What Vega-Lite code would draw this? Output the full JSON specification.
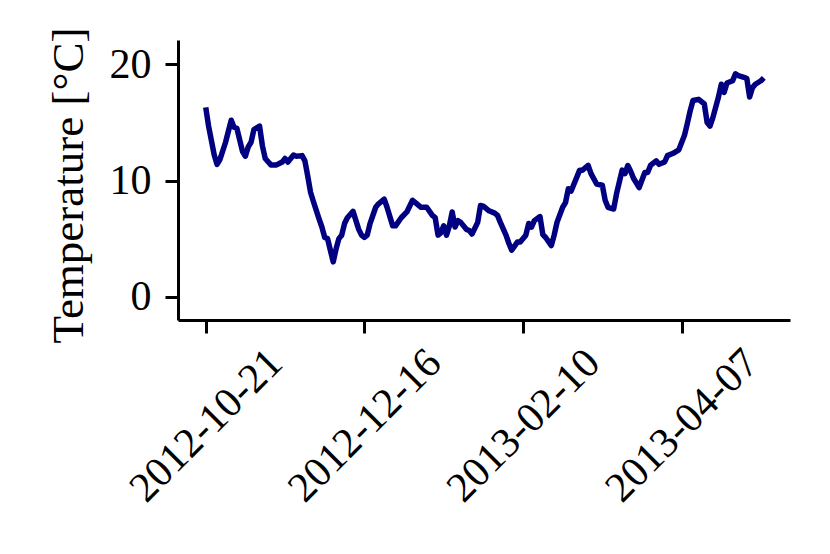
{
  "$schema": "https://vega.github.io/schema/vega-lite/v6.json",
  "width": 612,
  "height": 280,
  "autosize": "none",
  "padding": {"left": 178, "top": 40, "right": 40, "bottom": 234},
  "background": "white",
  "config": {
    "view": {"stroke": null},
    "font": "Liberation Serif",
    "axis": {
      "grid": false,
      "domainColor": "black",
      "domainWidth": 3,
      "tickColor": "black",
      "tickWidth": 3,
      "tickSize": 13,
      "labelFont": "Liberation Serif",
      "labelFontSize": 42,
      "labelColor": "black",
      "labelLimit": 1000,
      "titleFont": "Liberation Serif",
      "titleFontSize": 45,
      "titleFontWeight": "normal",
      "titleColor": "black",
      "titleLimit": 1000
    }
  },
  "data": {
    "values": [
      {"date": "2012-10-21", "temp": 16.3},
      {"date": "2012-10-22", "temp": 14.7},
      {"date": "2012-10-24", "temp": 12.2},
      {"date": "2012-10-25", "temp": 11.4},
      {"date": "2012-10-26", "temp": 11.8},
      {"date": "2012-10-28", "temp": 13.3},
      {"date": "2012-10-30", "temp": 15.2},
      {"date": "2012-10-31", "temp": 14.6},
      {"date": "2012-11-01", "temp": 14.5},
      {"date": "2012-11-03", "temp": 12.5},
      {"date": "2012-11-04", "temp": 12.1},
      {"date": "2012-11-05", "temp": 12.9},
      {"date": "2012-11-06", "temp": 13.3},
      {"date": "2012-11-07", "temp": 14.4},
      {"date": "2012-11-09", "temp": 14.7},
      {"date": "2012-11-10", "temp": 13.0},
      {"date": "2012-11-11", "temp": 11.9},
      {"date": "2012-11-13", "temp": 11.35},
      {"date": "2012-11-15", "temp": 11.35},
      {"date": "2012-11-17", "temp": 11.6},
      {"date": "2012-11-18", "temp": 11.9},
      {"date": "2012-11-19", "temp": 11.6},
      {"date": "2012-11-21", "temp": 12.2},
      {"date": "2012-11-22", "temp": 12.1},
      {"date": "2012-11-24", "temp": 12.15},
      {"date": "2012-11-25", "temp": 11.7},
      {"date": "2012-11-26", "temp": 10.4},
      {"date": "2012-11-27", "temp": 9.0},
      {"date": "2012-11-28", "temp": 8.2},
      {"date": "2012-11-30", "temp": 6.7},
      {"date": "2012-12-01", "temp": 6.0},
      {"date": "2012-12-02", "temp": 5.1},
      {"date": "2012-12-03", "temp": 5.0},
      {"date": "2012-12-04", "temp": 4.0},
      {"date": "2012-12-05", "temp": 3.0},
      {"date": "2012-12-06", "temp": 4.1},
      {"date": "2012-12-07", "temp": 5.0},
      {"date": "2012-12-08", "temp": 5.3},
      {"date": "2012-12-09", "temp": 6.3},
      {"date": "2012-12-10", "temp": 6.8},
      {"date": "2012-12-12", "temp": 7.35},
      {"date": "2012-12-14", "temp": 5.8},
      {"date": "2012-12-15", "temp": 5.3},
      {"date": "2012-12-16", "temp": 5.1},
      {"date": "2012-12-17", "temp": 5.3},
      {"date": "2012-12-18", "temp": 6.3},
      {"date": "2012-12-20", "temp": 7.7},
      {"date": "2012-12-21", "temp": 8.0},
      {"date": "2012-12-23", "temp": 8.4},
      {"date": "2012-12-24", "temp": 7.7},
      {"date": "2012-12-26", "temp": 6.1},
      {"date": "2012-12-27", "temp": 6.1},
      {"date": "2012-12-29", "temp": 6.8},
      {"date": "2012-12-31", "temp": 7.3},
      {"date": "2013-01-02", "temp": 8.3},
      {"date": "2013-01-03", "temp": 8.1},
      {"date": "2013-01-05", "temp": 7.7},
      {"date": "2013-01-07", "temp": 7.7},
      {"date": "2013-01-09", "temp": 7.0},
      {"date": "2013-01-10", "temp": 6.8},
      {"date": "2013-01-11", "temp": 5.3},
      {"date": "2013-01-12", "temp": 5.5},
      {"date": "2013-01-13", "temp": 6.1},
      {"date": "2013-01-14", "temp": 5.3},
      {"date": "2013-01-15", "temp": 6.1},
      {"date": "2013-01-16", "temp": 7.3},
      {"date": "2013-01-17", "temp": 6.0},
      {"date": "2013-01-18", "temp": 6.55},
      {"date": "2013-01-19", "temp": 6.4},
      {"date": "2013-01-21", "temp": 5.8},
      {"date": "2013-01-22", "temp": 5.7},
      {"date": "2013-01-23", "temp": 5.4},
      {"date": "2013-01-25", "temp": 6.4},
      {"date": "2013-01-26", "temp": 7.85},
      {"date": "2013-01-27", "temp": 7.8},
      {"date": "2013-01-29", "temp": 7.4},
      {"date": "2013-01-31", "temp": 7.2},
      {"date": "2013-02-01", "temp": 7.0},
      {"date": "2013-02-02", "temp": 6.4},
      {"date": "2013-02-04", "temp": 5.3},
      {"date": "2013-02-05", "temp": 4.6},
      {"date": "2013-02-06", "temp": 4.0},
      {"date": "2013-02-08", "temp": 4.7},
      {"date": "2013-02-09", "temp": 4.7},
      {"date": "2013-02-11", "temp": 5.3},
      {"date": "2013-02-12", "temp": 6.3},
      {"date": "2013-02-13", "temp": 6.0},
      {"date": "2013-02-14", "temp": 6.55},
      {"date": "2013-02-16", "temp": 6.9},
      {"date": "2013-02-17", "temp": 5.35},
      {"date": "2013-02-18", "temp": 5.1},
      {"date": "2013-02-20", "temp": 4.4},
      {"date": "2013-02-21", "temp": 5.3},
      {"date": "2013-02-22", "temp": 6.4},
      {"date": "2013-02-24", "temp": 7.7},
      {"date": "2013-02-25", "temp": 8.1},
      {"date": "2013-02-26", "temp": 9.3},
      {"date": "2013-02-27", "temp": 9.1},
      {"date": "2013-02-28", "temp": 9.7},
      {"date": "2013-03-02", "temp": 10.9},
      {"date": "2013-03-03", "temp": 10.9},
      {"date": "2013-03-05", "temp": 11.3},
      {"date": "2013-03-06", "temp": 10.6},
      {"date": "2013-03-08", "temp": 9.7},
      {"date": "2013-03-10", "temp": 9.6},
      {"date": "2013-03-11", "temp": 8.3},
      {"date": "2013-03-12", "temp": 7.7},
      {"date": "2013-03-14", "temp": 7.55},
      {"date": "2013-03-15", "temp": 8.85},
      {"date": "2013-03-17", "temp": 10.9},
      {"date": "2013-03-18", "temp": 10.6},
      {"date": "2013-03-19", "temp": 11.3},
      {"date": "2013-03-20", "temp": 10.8},
      {"date": "2013-03-21", "temp": 10.2},
      {"date": "2013-03-23", "temp": 9.4},
      {"date": "2013-03-25", "temp": 10.7},
      {"date": "2013-03-26", "temp": 10.7},
      {"date": "2013-03-27", "temp": 11.3},
      {"date": "2013-03-29", "temp": 11.7},
      {"date": "2013-03-30", "temp": 11.4},
      {"date": "2013-04-01", "temp": 11.6},
      {"date": "2013-04-02", "temp": 12.15},
      {"date": "2013-04-04", "temp": 12.35},
      {"date": "2013-04-06", "temp": 12.65},
      {"date": "2013-04-08", "temp": 13.9},
      {"date": "2013-04-09", "temp": 14.9},
      {"date": "2013-04-10", "temp": 16.0},
      {"date": "2013-04-11", "temp": 16.9},
      {"date": "2013-04-13", "temp": 17.0},
      {"date": "2013-04-15", "temp": 16.6},
      {"date": "2013-04-16", "temp": 15.0},
      {"date": "2013-04-17", "temp": 14.7},
      {"date": "2013-04-18", "temp": 15.4},
      {"date": "2013-04-20", "temp": 17.2},
      {"date": "2013-04-21", "temp": 18.3},
      {"date": "2013-04-22", "temp": 17.6},
      {"date": "2013-04-23", "temp": 18.4},
      {"date": "2013-04-25", "temp": 18.6},
      {"date": "2013-04-26", "temp": 19.2},
      {"date": "2013-04-27", "temp": 19.05},
      {"date": "2013-04-29", "temp": 18.9},
      {"date": "2013-04-30", "temp": 18.8},
      {"date": "2013-05-01", "temp": 17.2},
      {"date": "2013-05-02", "temp": 18.0},
      {"date": "2013-05-03", "temp": 18.3},
      {"date": "2013-05-05", "temp": 18.6},
      {"date": "2013-05-06", "temp": 18.85}
    ]
  },
  "mark": {"type": "line", "color": "#000080", "strokeWidth": 5.5, "strokeJoin": "round", "strokeCap": "butt", "clip": true},
  "encoding": {
    "x": {
      "field": "date",
      "type": "temporal",
      "scale": {
        "type": "utc",
        "domain": [
          {"year": 2012, "month": 10, "date": 11, "hours": 5, "utc": true},
          {"year": 2013, "month": 5, "date": 15, "hours": 6, "utc": true}
        ]
      },
      "axis": {
        "title": null,
        "values": [
          {"year": 2012, "month": 10, "date": 21, "utc": true},
          {"year": 2012, "month": 12, "date": 16, "utc": true},
          {"year": 2013, "month": 2, "date": 10, "utc": true},
          {"year": 2013, "month": 4, "date": 7, "utc": true}
        ],
        "labelExpr": "utcFormat(datum.value, '%Y-%m-%d')",
        "labelAngle": -45,
        "labelAlign": "center",
        "labelBaseline": "middle",
        "labelPadding": 92,
        "labelOverlap": false,
        "labelFlush": false
      }
    },
    "y": {
      "field": "temp",
      "type": "quantitative",
      "scale": {"domain": [-2.01, 22.11], "nice": false, "zero": false},
      "axis": {
        "title": "Temperature [°C]",
        "values": [0, 10, 20],
        "labelPadding": 14,
        "titleX": -110,
        "titleY": 145,
        "titleAngle": -90,
        "titleAlign": "center",
        "titleBaseline": "middle"
      }
    }
  }
}
